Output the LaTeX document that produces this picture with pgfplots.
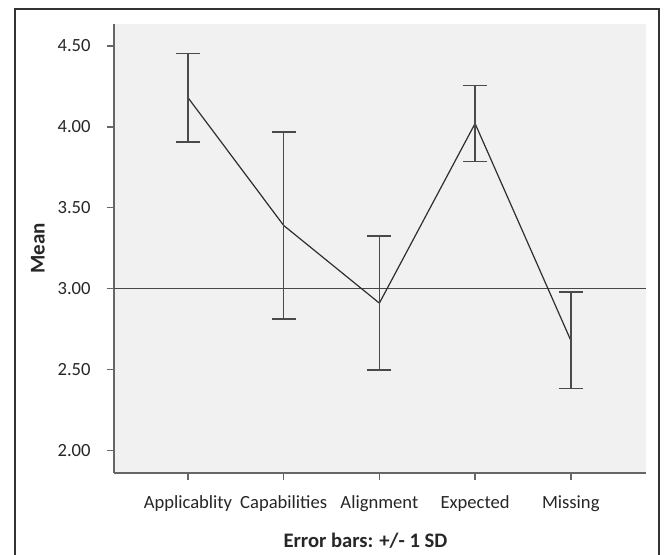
\documentclass[border=0pt]{standalone}
\usepackage{fontspec}
\setmainfont{Carlito}
\usepackage{pgfplots}
\pgfplotsset{compat=1.18}
\definecolor{bg}{HTML}{F0F1F0}
\definecolor{ax}{HTML}{666666}
\definecolor{ln}{HTML}{2E2E2E}
\definecolor{eb}{HTML}{4A4A4A}
\pgfplotstableread{
x y e
0 4.18 0.273
1 3.39 0.579
2 2.91 0.414
3 4.02 0.234
4 2.68 0.297
}\meandata
\begin{document}
\begin{tikzpicture}
\useasboundingbox (-57pt,-40.5pt) rectangle (275pt,236.5pt);
\draw[line width=0.75pt, black!80] (-49.5pt,-45pt) -- (-49.5pt,232pt) -- (272.5pt,232pt) -- (272.5pt,-45pt);
\begin{axis}[
  at={(0pt,0pt)}, anchor=south west,
  scale only axis, width=266pt, height=224.5pt,
  xmin=-0.773, xmax=4.786, ymin=1.860, ymax=4.635,
  axis x line*=bottom, axis y line*=left,
  axis line style={ax, line width=0.8pt, -},
  axis background/.style={fill=bg},
  tick align=outside, major tick length=3.5pt,
  tick style={ax, line width=0.75pt},
  xtick={0,1,2,3,4},
  xticklabels={Applicablity,Capabilities,Alignment,Expected,Missing},
  ytick={2,2.5,3,3.5,4,4.5},
  /pgf/number format/assume math mode=true,
  yticklabel style={/pgf/number format/fixed, /pgf/number format/fixed zerofill, /pgf/number format/precision=2, inner sep=0pt, xshift=-8pt},
  ticklabel style={font=\fontsize{9.3}{11}\selectfont, text=black!85},
  xticklabel style={anchor=base, yshift=-14pt, inner sep=0pt},
  xlabel={Error bars: +/- 1 SD},
  xlabel style={at={(axis description cs:0.4727,0)}, anchor=base, yshift=-37pt, inner sep=0pt, font=\fontsize{10.3}{12}\selectfont\bfseries, text=black!85},
  ylabel={Mean},
  ylabel style={at={(axis description cs:-0.143,0.5)}, anchor=center, inner sep=0pt, font=\fontsize{10.5}{12}\selectfont\bfseries, text=black!85},
]
\addplot[ax!70!black, line width=0.75pt, forget plot] coordinates {(-0.773,3) (4.786,3)};
\addplot[ln, line width=0.6pt, mark=none,
  error bars/.cd, y dir=both, y explicit,
  error bar style={eb, line width=0.8pt},
  error mark options={rotate=90, mark size=6pt, eb, line width=0.8pt}]
  table[x=x, y=y, y error=e] {\meandata};
\end{axis}
\end{tikzpicture}
\end{document}
